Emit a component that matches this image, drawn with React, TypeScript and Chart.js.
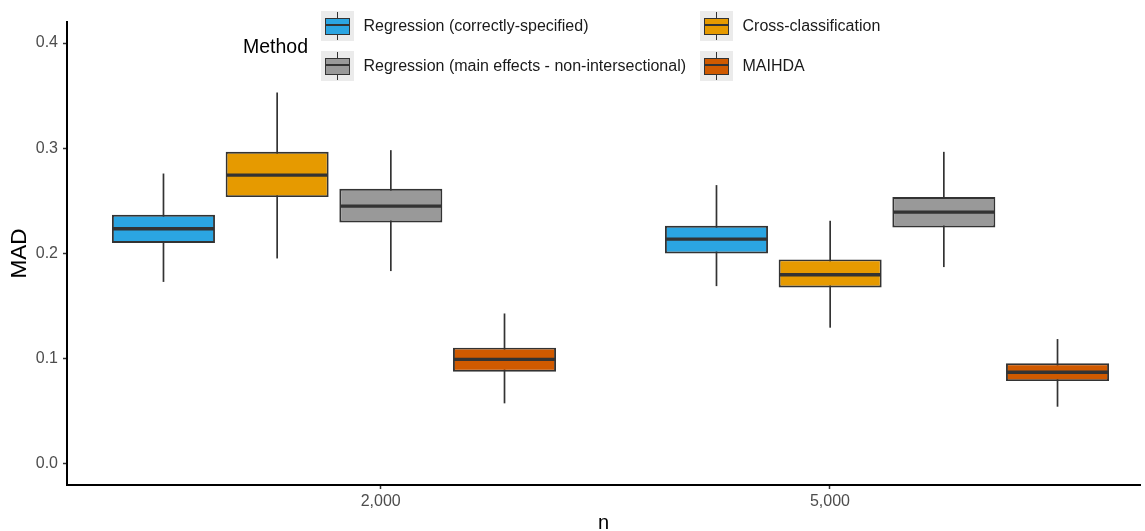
import React, { useEffect, useRef } from "react";
import { Chart, registerables } from "chart.js";

Chart.register(...registerables);

// ---- data ----
const nLabels = ["2,000", "5,000"];
const methodNames = [
  "Regression (correctly-specified)",
  "Cross-classification",
  "Regression (main effects - non-intersectional)",
  "MAIHDA",
];
const methodColors = ["#2BA5E2", "#E69A00", "#999999", "#D05A00"];
const yTickValues = [0.0, 0.1, 0.2, 0.3, 0.4];

// Regression (correctly-specified)
const correctMin = [0.173, 0.169];
const correctQ1 = [0.21, 0.2];
const correctMed = [0.2235, 0.2137];
const correctQ3 = [0.2368, 0.2263];
const correctMax = [0.276, 0.265];

// Cross-classification
const crossMin = [0.1953, 0.1295];
const crossQ1 = [0.2536, 0.1678];
const crossMed = [0.2745, 0.1798];
const crossQ3 = [0.2966, 0.1944];
const crossMax = [0.353, 0.2311];

// Regression (main effects - non-intersectional)
const mainMin = [0.1833, 0.1871];
const mainQ1 = [0.2295, 0.2248];
const mainMed = [0.245, 0.2393];
const mainQ3 = [0.2615, 0.2536];
const mainMax = [0.2982, 0.2966];

// MAIHDA
const maihdaMin = [0.0576, 0.0544];
const maihdaQ1 = [0.0877, 0.0788];
const maihdaMed = [0.0994, 0.0871];
const maihdaQ3 = [0.1105, 0.0956];
const maihdaMax = [0.143, 0.1187];

const methodStats = [
  { min: correctMin, q1: correctQ1, med: correctMed, q3: correctQ3, max: correctMax },
  { min: crossMin, q1: crossQ1, med: crossMed, q3: crossQ3, max: crossMax },
  { min: mainMin, q1: mainQ1, med: mainMed, q3: mainQ3, max: mainMax },
  { min: maihdaMin, q1: maihdaQ1, med: maihdaMed, q3: maihdaQ3, max: maihdaMax },
];

const FONT = "'Liberation Sans', Arial, sans-serif";
const DARK = "#333333";

const boxPlugin = {
  id: "boxWhiskers",
  beforeDatasetsDraw(chart: any) {
    const ctx = chart.ctx;
    const y = chart.scales.y;
    ctx.save();
    ctx.strokeStyle = DARK;
    ctx.lineWidth = 1.7;
    chart.data.datasets.forEach((ds: any, i: number) => {
      const meta = chart.getDatasetMeta(i);
      meta.data.forEach((el: any, j: number) => {
        ctx.beginPath();
        ctx.moveTo(el.x, y.getPixelForValue(ds.whiskerLo[j]));
        ctx.lineTo(el.x, y.getPixelForValue(ds.whiskerHi[j]));
        ctx.stroke();
      });
    });
    ctx.restore();
  },
  afterDatasetsDraw(chart: any) {
    const ctx = chart.ctx;
    const y = chart.scales.y;
    ctx.save();
    ctx.strokeStyle = DARK;
    ctx.lineWidth = 3.4;
    chart.data.datasets.forEach((ds: any, i: number) => {
      const meta = chart.getDatasetMeta(i);
      meta.data.forEach((el: any, j: number) => {
        const py = y.getPixelForValue(ds.medians[j]);
        ctx.beginPath();
        ctx.moveTo(el.x - el.width / 2 + 1, py);
        ctx.lineTo(el.x + el.width / 2 - 1, py);
        ctx.stroke();
      });
    });
    ctx.restore();
  },
};

function LegendKey({ color, left, top }: { color: string; left: number; top: number }) {
  return (
    <div
      style={{
        position: "absolute",
        left,
        top,
        width: 33,
        height: 30,
        background: "#EBEBEB",
      }}
    >
      <div
        style={{
          position: "absolute",
          left: 15.7,
          top: 1,
          width: 1.6,
          height: 28,
          background: DARK,
        }}
      />
      <div
        style={{
          position: "absolute",
          left: 4,
          top: 6.5,
          width: 25,
          height: 17,
          boxSizing: "border-box",
          border: `1.8px solid ${DARK}`,
          background: color,
        }}
      >
        <div
          style={{
            position: "absolute",
            left: 0,
            right: 0,
            top: 5.9,
            height: 1.8,
            background: DARK,
          }}
        />
      </div>
    </div>
  );
}

export default function App() {
  const canvasRef = useRef<HTMLCanvasElement | null>(null);

  useEffect(() => {
    if (!canvasRef.current) return;
    const datasets = methodStats.map((s, i) => ({
      label: methodNames[i],
      data: nLabels.map((_, k) => ({ x: k + 1, y: [s.q1[k], s.q3[k]] })),
      backgroundColor: methodColors[i],
      borderColor: DARK,
      borderWidth: 1.9,
      borderSkipped: false,
      barPercentage: 0.906,
      categoryPercentage: 1.012,
      whiskerLo: s.min,
      whiskerHi: s.max,
      medians: s.med,
    }));

    const chart = new Chart(canvasRef.current, {
      type: "bar",
      data: { datasets: datasets as any },
      plugins: [boxPlugin],
      options: {
        animation: false,
        responsive: true,
        maintainAspectRatio: false,
        layout: { padding: { top: 22, right: 5, left: 0, bottom: 0 } },
        plugins: {
          legend: { display: false },
          tooltip: { enabled: false },
        },
        scales: {
          x: {
            type: "linear",
            min: 0.5172,
            max: 2.4575,
            offset: false,
            afterBuildTicks: (scale: any) => {
              scale.ticks = [{ value: 1.0844 }, { value: 1.8969 }];
            },
            afterFit: (scale: any) => {
              scale.height = 46;
            },
            ticks: {
              callback: (_v: any, i: number) => nLabels[i],
              font: { family: FONT, size: 16 },
              color: "#4D4D4D",
              padding: 3,
              maxRotation: 0,
              autoSkip: false,
            },
            grid: {
              offset: false,
              drawOnChartArea: false,
              drawTicks: true,
              tickLength: 4,
              tickColor: DARK,
              tickWidth: 1.5,
            },
            border: { display: true, color: "#000000", width: 2 },
            title: {
              display: true,
              text: "n",
              font: { family: FONT, size: 20, lineHeight: 0.8 },
              color: "#000000",
              padding: { top: 0, bottom: 0 },
            },
          },
          y: {
            type: "linear",
            min: -0.02,
            max: 0.42,
            afterBuildTicks: (scale: any) => {
              scale.ticks = yTickValues.map((v) => ({ value: v }));
            },
            afterFit: (scale: any) => {
              scale.width = 67;
            },
            ticks: {
              callback: (v: any) => Number(v).toFixed(1),
              font: { family: FONT, size: 16 },
              color: "#4D4D4D",
              padding: 5,
            },
            grid: {
              drawOnChartArea: false,
              drawTicks: true,
              tickLength: 4,
              tickColor: DARK,
              tickWidth: 1.5,
            },
            border: { display: true, color: "#000000", width: 2 },
            title: {
              display: true,
              text: "MAD",
              font: { family: FONT, size: 22.5 },
              color: "#000000",
              padding: { top: 6, bottom: 0 },
            },
          },
        },
      } as any,
    });
    return () => chart.destroy();
  }, []);

  const colLeft = [321, 700];
  const rowTop = [11, 51];

  return (
    <div
      style={{
        position: "fixed",
        left: 0,
        top: 0,
        width: 1145,
        height: 531,
        background: "#FFFFFF",
        fontFamily: FONT,
      }}
    >
      <canvas ref={canvasRef} />
      <div
        style={{
          position: "absolute",
          left: 243,
          top: 34,
          fontSize: 19.5,
          lineHeight: "24px",
          color: "#000000",
          whiteSpace: "nowrap",
        }}
      >
        Method
      </div>
      {methodNames.map((name, i) => {
        const col = i % 2;
        const row = Math.floor(i / 2);
        const left = colLeft[col];
        const top = rowTop[row];
        return (
          <React.Fragment key={name}>
            <LegendKey color={methodColors[i]} left={left} top={top} />
            <div
              style={{
                position: "absolute",
                left: left + 42.5,
                top,
                height: 30,
                lineHeight: "30px",
                fontSize: 16,
                color: "#1A1A1A",
                whiteSpace: "nowrap",
              }}
            >
              {name}
            </div>
          </React.Fragment>
        );
      })}
    </div>
  );
}
